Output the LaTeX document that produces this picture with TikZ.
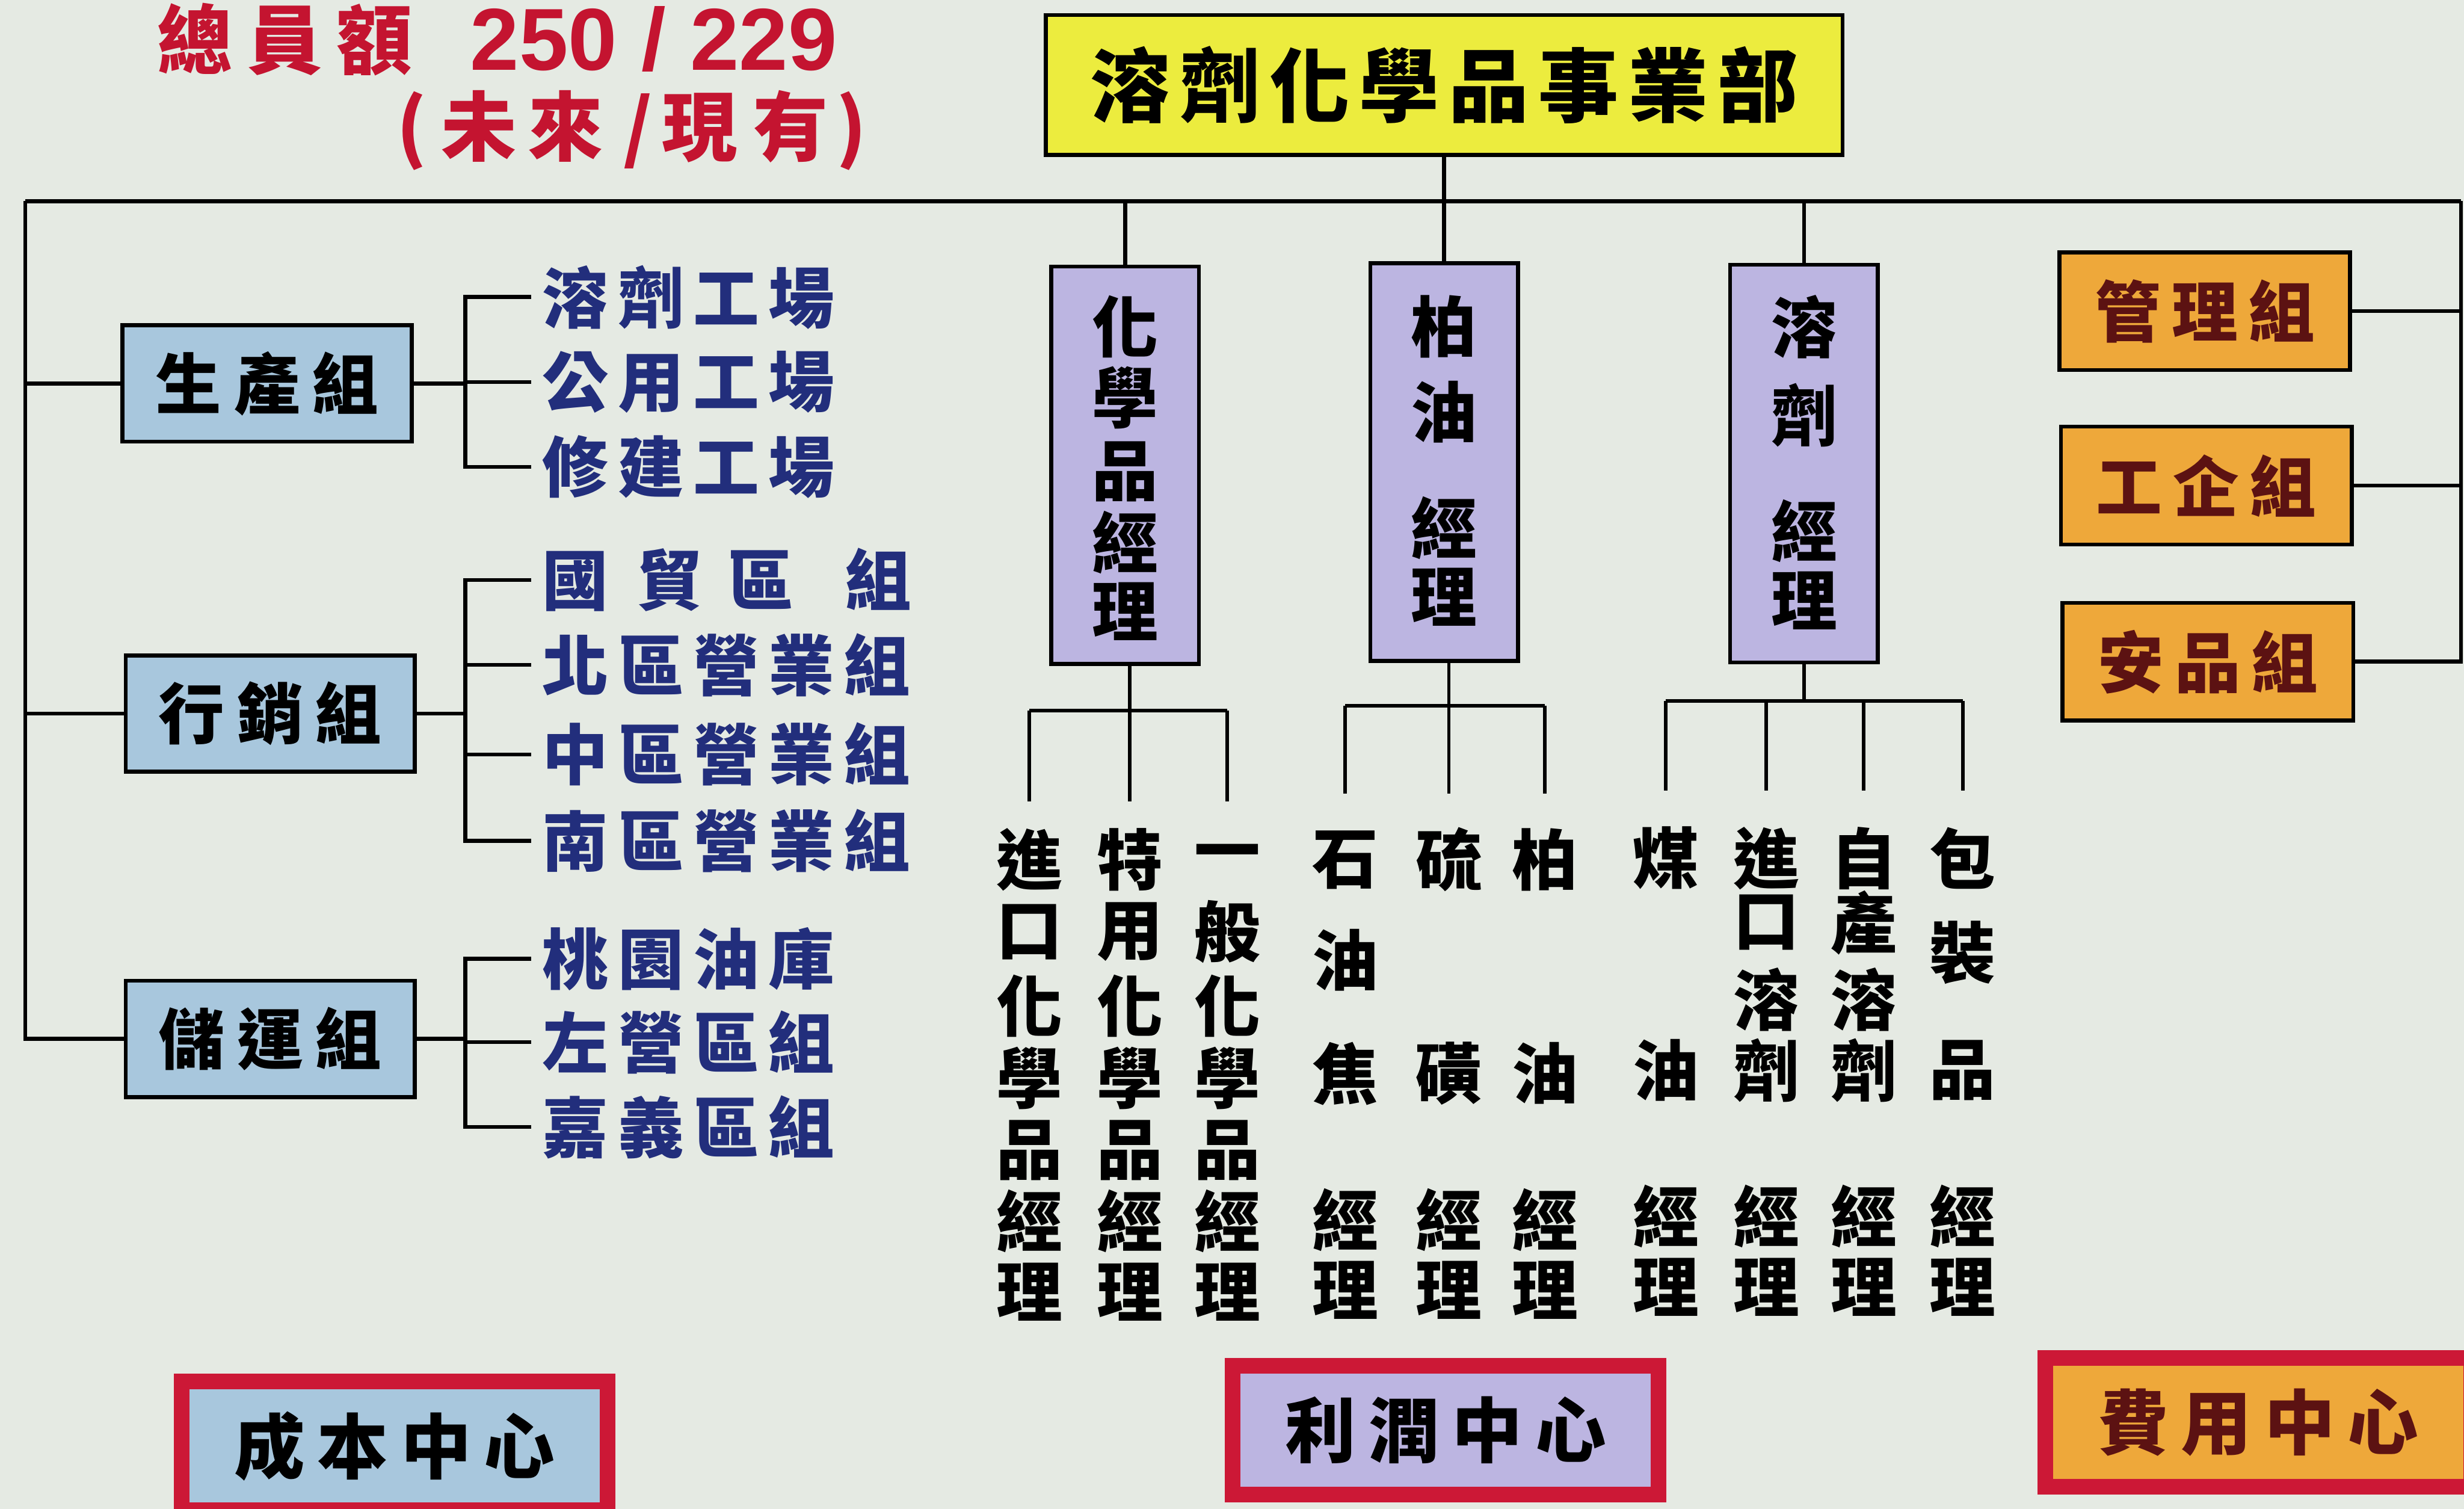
\documentclass[tikz,border=0pt]{standalone}
\usepackage{fontspec}
\newfontfamily\cjk{Noto Sans CJK TC}
\newfontfamily\lsans{Liberation Sans}
\definecolor{cbg}{RGB}{229,234,227}
\definecolor{cblue}{RGB}{168,199,221}
\definecolor{cpurple}{RGB}{188,181,225}
\definecolor{corange}{RGB}{238,168,58}
\definecolor{cyellow}{RGB}{236,236,62}
\definecolor{cred}{RGB}{204,24,54}
\definecolor{ctitle}{RGB}{196,20,48}
\definecolor{cnavy}{RGB}{34,46,124}
\definecolor{cmaroon}{RGB}{92,18,18}
\makeatletter
\newcommand\gapped[2]{\def\gp@sep{\hspace{#1}}\gp@first#2\gp@end}
\def\gp@end{\gp@end}
\def\gp@first#1{\ifx#1\gp@end\else#1\expandafter\gp@rest\fi}
\def\gp@rest#1{\ifx#1\gp@end\else\gp@sep#1\expandafter\gp@rest\fi}
\makeatother
\newcommand\fs[1]{\fontsize{#1}{#1}\selectfont}
\begin{document}
\begin{tikzpicture}[x=1pt,y=-1pt,
  ln/.style={line width=2.5pt,black},
  tln/.style={line width=2.2pt,black},
  box/.style={draw=black,line width=2.5pt,inner sep=0pt,font=\cjk\bfseries\fs{42}},
  topbox/.style={box,fill=cyellow,minimum width=507pt,minimum height=89pt,font=\cjk\bfseries\fs{51}},
  bluebox/.style={box,fill=cblue,minimum width=184pt,minimum height=74pt},
  purbox/.style={box,fill=cpurple,minimum width=94pt,minimum height=253pt},
  orbox/.style={box,fill=corange,minimum width=185pt,minimum height=75pt,text=cmaroon},
  item/.style={anchor=west,inner sep=0pt,text=cnavy,font=\cjk\bfseries\fs{42}},
  vch/.style={inner sep=0pt,font=\cjk\bfseries\fs{42}},
  cch/.style={inner sep=0pt,font=\cjk\bfseries\fs{42}},
  ctrbox/.style={draw=cred,line width=10pt,inner sep=0pt,minimum width=271pt,minimum height=82pt,font=\cjk\bfseries\fs{45}},
  ttl/.style={inner sep=0pt,text=ctitle,font=\cjk\bfseries\fs{48}},
  ttlnum/.style={inner sep=0pt,text=ctitle,font=\lsans\bfseries\fs{56}}]
\fill[cbg] (0,0) rectangle (1568,960);
\useasboundingbox (0,0) rectangle (1568,960);
\clip (0,0) rectangle (1568,960);

% title
\node[ttl] (t1) at (181,25) {\gapped{9pt}{總員額}};
\node[ttlnum] (t2) at (416,25) {250 / 229};
\node[ttl] (t3) at (402,83) {(\hspace{9pt}未\hspace{7pt}來\hspace{13pt}/\hspace{6pt}現\hspace{10pt}有\hspace{5pt})};

% top
\node[topbox] (top) at (919,54) {\gapped{6pt}{溶劑化學品事業部}};
\coordinate (tl) at (16,128);
\coordinate (tr) at (1566,128);
\draw[ln] (tl) -- (tr);

% left groups
\node[bluebox] (g1) at (170,244) {\gapped{8pt}{生產組}};
\node[bluebox] (g2) at (172,454) {\gapped{8pt}{行銷組}};
\node[bluebox] (g3) at (172,661) {\gapped{8pt}{儲運組}};
\draw[ln] (tl) -- (tl |- g3.west) -- (g3.west);
\draw[ln] (tl |- g1.west) -- (g1.west);
\draw[ln] (tl |- g2.west) -- (g2.west);

\coordinate (bx) at (296,0);
\node[item] (s1) at (345,189) {\gapped{6pt}{溶劑工場}};
\node[item] (s2) at (345,243) {\gapped{6pt}{公用工場}};
\node[item] (s3) at (345,297) {\gapped{6pt}{修建工場}};
\draw[ln] (g1.east) -- (g1.east -| bx);
\draw[ln] ([xshift=-7pt]s1.west) -- (bx |- s1.west) -- (bx |- s3.west) -- ([xshift=-7pt]s3.west);
\draw[ln] (bx |- s2.west) -- ([xshift=-7pt]s2.west);

\node[item] (s4) at (345,369) {國\hspace{18pt}貿\hspace{16pt}區\hspace{33pt}組};
\node[item] (s5) at (345,423) {\gapped{6pt}{北區營業組}};
\node[item] (s6) at (345,480) {\gapped{6pt}{中區營業組}};
\node[item] (s7) at (345,535) {\gapped{6pt}{南區營業組}};
\draw[ln] (g2.east) -- (g2.east -| bx);
\draw[ln] ([xshift=-7pt]s4.west) -- (bx |- s4.west) -- (bx |- s7.west) -- ([xshift=-7pt]s7.west);
\draw[ln] (bx |- s5.west) -- ([xshift=-7pt]s5.west);
\draw[ln] (bx |- s6.west) -- ([xshift=-7pt]s6.west);

\node[item] (s8) at (345,610) {\gapped{6pt}{桃園油庫}};
\node[item] (s9) at (345,663) {\gapped{6pt}{左營區組}};
\node[item] (s10) at (345,717) {\gapped{6pt}{嘉義區組}};
\draw[ln] (g3.east) -- (g3.east -| bx);
\draw[ln] ([xshift=-7pt]s8.west) -- (bx |- s8.west) -- (bx |- s10.west) -- ([xshift=-7pt]s10.west);
\draw[ln] (bx |- s9.west) -- ([xshift=-7pt]s9.west);

% managers
\node[purbox] (m1) at (716,296) {};
\node[purbox] (m2) at (919,294) {};
\node[purbox] (m3) at (1148,295) {};
\foreach \c/\y [count=\i] in {化/208,學/253,品/300,經/345,理/389} \node[vch] (m1c\i) at (716,\y) {\c};
\foreach \c/\y [count=\i] in {柏/208,油/262,經/336,理/380} \node[vch] (m2c\i) at (919,\y) {\c};
\foreach \c/\y [count=\i] in {溶/208,劑/264,經/338,理/382} \node[vch] (m3c\i) at (1148,\y) {\c};
\draw[ln] (m1.north |- tl) -- (m1.north);
\draw[ln] (top.south) -- (m2.north);
\draw[ln] (m3.north |- tl) -- (m3.north);

% staff groups
\node[orbox] (o1) at (1403,198) {\gapped{7pt}{管理組}};
\node[orbox] (o2) at (1404,309) {\gapped{7pt}{工企組}};
\node[orbox] (o3) at (1405,421) {\gapped{7pt}{安品組}};
\draw[ln] (tr) -- (tr |- o3.east) -- (o3.east);
\draw[ln] (o1.east) -- (o1.east -| tr);
\draw[ln] (o2.east) -- (o2.east -| tr);

% columns
\foreach \c/\y [count=\i] in {進/547,口/593,化/640,學/686,品/732,經/777,理/822} \node[cch] (ka\i) at (655,\y) {\c};
\foreach \c/\y [count=\i] in {特/547,用/593,化/640,學/686,品/732,經/777,理/822} \node[cch] (kb\i) at (719,\y) {\c};
\foreach \c/\y [count=\i] in {一/547,般/593,化/640,學/686,品/732,經/777,理/822} \node[cch] (kc\i) at (781,\y) {\c};
\foreach \c/\y [count=\i] in {石/547,油/611,焦/683,經/776,理/821} \node[cch] (kd\i) at (856,\y) {\c};
\foreach \c/\y [count=\i] in {硫/547,磺/683,經/776,理/821} \node[cch] (ke\i) at (922,\y) {\c};
\foreach \c/\y [count=\i] in {柏/547,油/683,經/776,理/821} \node[cch] (kf\i) at (983,\y) {\c};
\foreach \c/\y [count=\i] in {煤/546,油/681,經/774,理/819} \node[cch] (kg\i) at (1060,\y) {\c};
\foreach \c/\y [count=\i] in {進/546,口/587,溶/636,劑/681,經/774,理/819} \node[cch] (kh\i) at (1124,\y) {\c};
\foreach \c/\y [count=\i] in {自/546,產/587,溶/636,劑/681,經/774,理/819} \node[cch] (ki\i) at (1186,\y) {\c};
\foreach \c/\y [count=\i] in {包/546,裝/606,品/681,經/774,理/819} \node[cch] (kj\i) at (1249,\y) {\c};

\coordinate (j1) at (0,452); \coordinate (e1) at (0,510);
\coordinate (j2) at (0,449); \coordinate (e2) at (0,505);
\coordinate (j3) at (0,446); \coordinate (e3) at (0,503);
\draw[tln] (m1.south -| kb1) -- (kb1 |- j1);
\draw[tln] (ka1 |- j1) -- (kc1 |- j1);
\foreach \k in {ka1,kb1,kc1} \draw[tln] (\k |- j1) -- (\k |- e1);
\draw[tln] (m2.south -| ke1) -- (ke1 |- j2);
\draw[tln] (kd1 |- j2) -- (kf1 |- j2);
\foreach \k in {kd1,ke1,kf1} \draw[tln] (\k |- j2) -- (\k |- e2);
\draw[tln] (m3.south) -- (m3.south |- j3);
\draw[tln] (kg1 |- j3) -- (kj1 |- j3);
\foreach \k in {kg1,kh1,ki1,kj1} \draw[tln] (\k |- j3) -- (\k |- e3);

% centres
\node[ctrbox,fill=cblue] (cc1) at (251,920) {\gapped{8pt}{成本中心}};
\node[ctrbox,fill=cpurple] (cc2) at (920,910) {\gapped{8pt}{利潤中心}};
\node[ctrbox,fill=corange,text=cmaroon] (cc3) at (1437,905) {\gapped{8pt}{費用中心}};
\end{tikzpicture}
\end{document}
